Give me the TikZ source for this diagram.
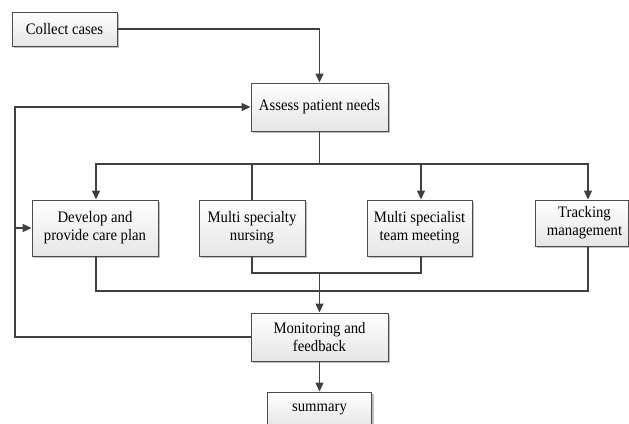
\documentclass[tikz,border=0pt]{standalone}
\usepackage{fontspec}
\setmainfont{Liberation Serif}[FakeStretch=0.92]
\usetikzlibrary{arrows.meta,shadows}
\begin{document}
\begin{tikzpicture}[x=1pt,y=-1pt,
  box/.style={draw=black!70, line width=0.9pt, top color=white, bottom color=black!10,
    drop shadow={shadow xshift=2pt, shadow yshift=-2pt, fill=black!25, opacity=1},
    align=center, inner sep=2pt, font=\fontsize{16}{18}\selectfont},
  conn/.style={draw=black!75, line width=1.3pt},
  arr/.style={conn, -{Triangle[length=9pt,width=8pt]}}]
\useasboundingbox (0,0) rectangle (629,423);
\node[box, minimum width=105pt, minimum height=34pt] (collect) at (64.5,29) {Collect cases};
\node[box, minimum width=137pt, minimum height=48pt] (assess) at (319.5,107) {Assess patient needs};
\node[box, minimum width=126pt, minimum height=56pt] (develop) at (95,228) {Develop and\\provide care plan};
\node[box, minimum width=106pt, minimum height=56pt] (nursing) at (252,228) {Multi specialty\\nursing};
\node[box, minimum width=105pt, minimum height=56pt] (meeting) at (419.5,228) {Multi specialist\\team meeting};
\node[box, minimum width=93pt, minimum height=46pt] (tracking) at (581.5,223) {\hspace*{6pt}Tracking\\\hspace*{6pt}management};
\node[box, minimum width=137pt, minimum height=48pt] (monitor) at (319.5,337) {Monitoring and\\feedback};
\node[box, minimum width=104pt, minimum height=34pt] (summary) at (319.5,409) {summary};

\coordinate (bus) at (319.5,164);
\coordinate (join) at (319.5,273);
\coordinate (loop) at (15,337);
\coordinate (looptop) at (15,107);
\coordinate (bottombus) at (96,291);
\coordinate (trackx) at (588,164);

\draw[arr] (collect.east) -| (assess.north);
\draw[conn] (assess.south) -- (bus);
\draw[arr] (bus) -| (develop.north -| 96,0);
\draw[conn] (bus) -| (nursing.north);
\draw[arr] (bus) -| (meeting.north -| 421,0);
\draw[arr] (bus) -| (tracking.north -| trackx);
\draw[conn] (nursing.south) |- (join);
\draw[conn] (meeting.south -| 421,0) |- (join);
\draw[arr] (join) -- (monitor.north);
\draw[conn] (develop.south -| 96,0) |- (bottombus -| trackx) -- (tracking.south -| trackx);
\draw[arr] (monitor.south) -- (summary.north);
\draw[arr] (monitor.west) -- (loop) -- (looptop) -- (assess.west);
\draw[arr] (loop |- develop.west) -- (develop.west);
\end{tikzpicture}
\end{document}
